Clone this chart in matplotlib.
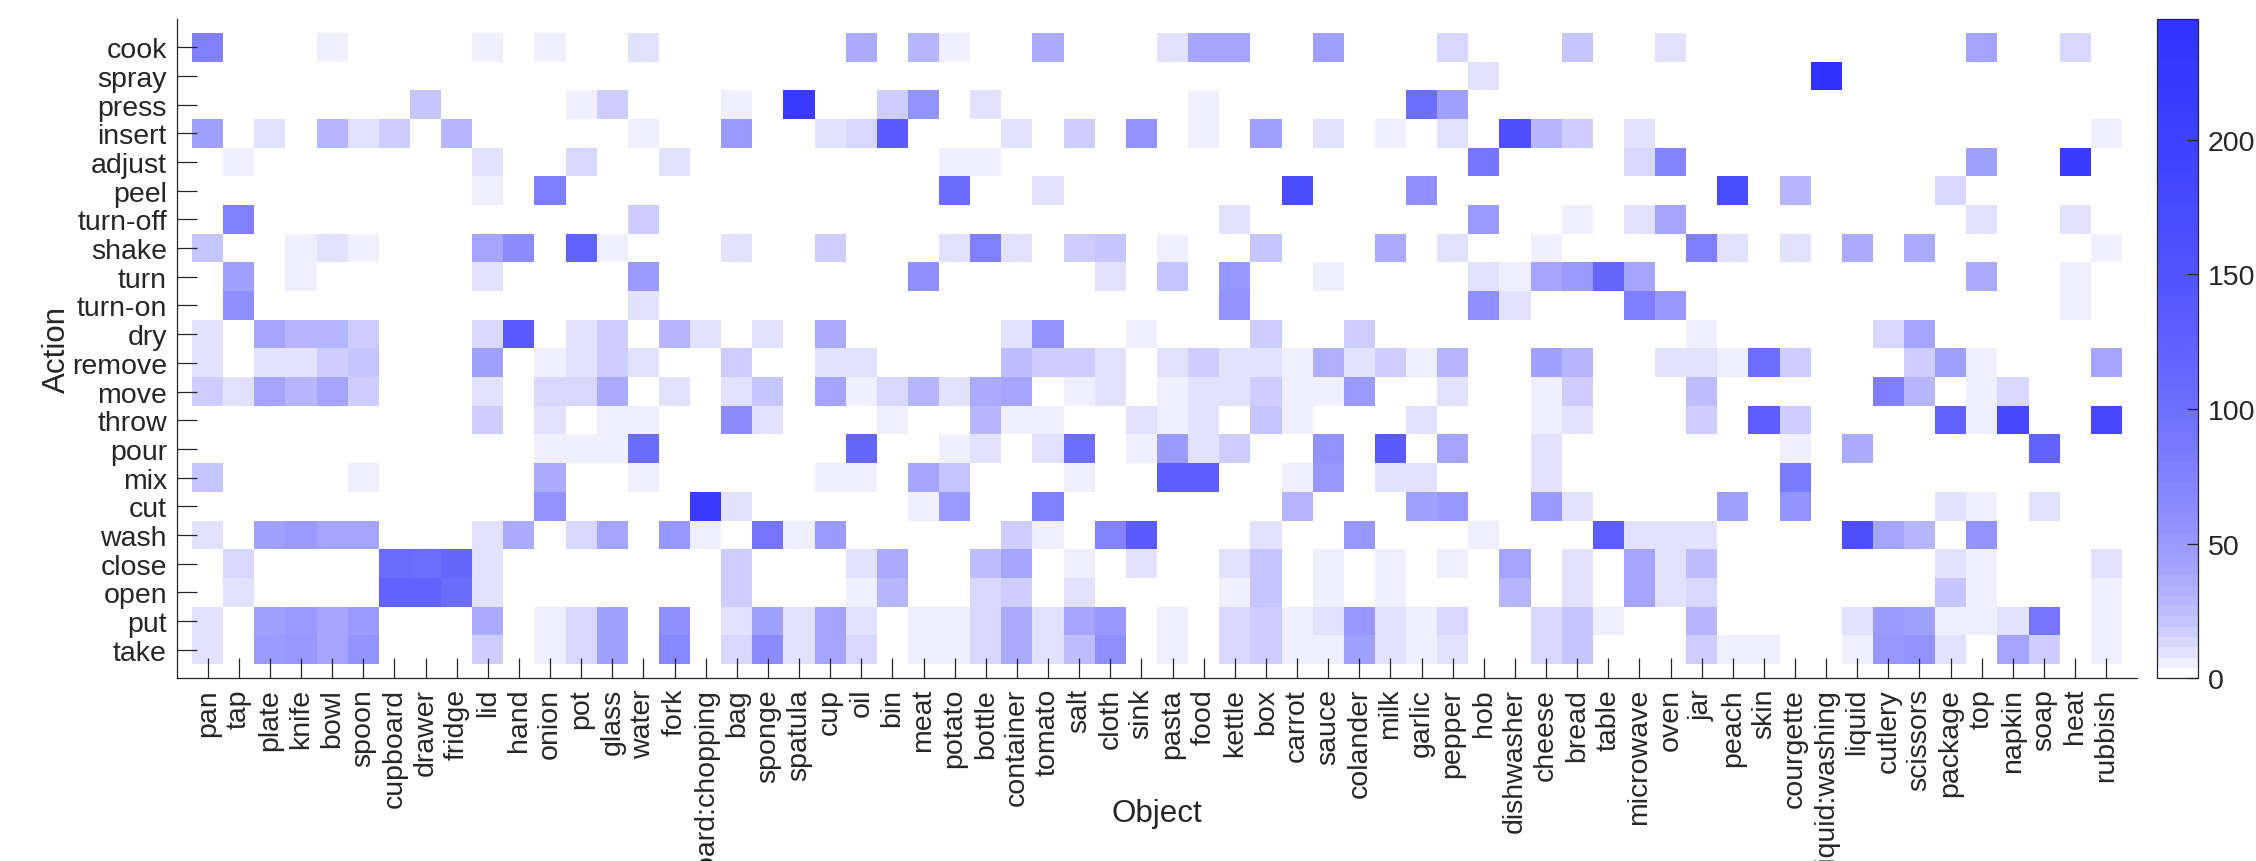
import numpy as np
import matplotlib
matplotlib.use("Agg")
import matplotlib.pyplot as plt
from matplotlib.colors import ListedColormap

plt.rcParams['font.family'] = ['Liberation Sans', 'DejaVu Sans']

actions = ["cook", "spray", "press", "insert", "adjust", "peel", "turn-off", "shake",
           "turn", "turn-on", "dry", "remove", "move", "throw", "pour", "mix", "cut",
           "wash", "close", "open", "put", "take"]

objects = ["pan", "tap", "plate", "knife", "bowl", "spoon", "cupboard", "drawer", "fridge",
           "lid", "hand", "onion", "pot", "glass", "water", "fork", "board:chopping", "bag",
           "sponge", "spatula", "cup", "oil", "bin", "meat", "potato", "bottle", "container",
           "tomato", "salt", "cloth", "sink", "pasta", "food", "kettle", "box", "carrot",
           "sauce", "colander", "milk", "garlic", "pepper", "hob", "dishwasher", "cheese",
           "bread", "table", "microwave", "oven", "jar", "peach", "skin", "courgette",
           "liquid:washing", "liquid", "cutlery", "scissors", "package", "top", "napkin",
           "soap", "heat", "rubbish"]

# counts per action, one value per object (same order as `objects`)
cook = [76, 0, 0, 0, 5, 0, 0, 0, 0, 5,
        0, 5, 0, 0, 11, 0, 0, 0, 0, 0,
        0, 36, 0, 28, 5, 0, 0, 36, 0, 0,
        0, 11, 42, 39, 0, 0, 45, 0, 0, 0,
        13, 0, 0, 0, 22, 0, 0, 8, 0, 0,
        0, 0, 0, 0, 0, 0, 0, 39, 0, 0,
        13, 0]
spray = [0, 0, 0, 0, 0, 0, 0, 0, 0, 0,
         0, 0, 0, 0, 0, 0, 0, 0, 0, 0,
         0, 0, 0, 0, 0, 0, 0, 0, 0, 0,
         0, 0, 0, 0, 0, 0, 0, 0, 0, 0,
         0, 8, 0, 0, 0, 0, 0, 0, 0, 0,
         0, 0, 245, 0, 0, 0, 0, 0, 0, 0,
         0, 0]
press = [0, 0, 0, 0, 0, 0, 0, 22, 0, 0,
         0, 0, 5, 17, 0, 0, 0, 5, 0, 217,
         0, 0, 17, 56, 0, 8, 0, 0, 0, 0,
         0, 0, 5, 0, 0, 0, 0, 0, 0, 100,
         45, 0, 0, 0, 0, 0, 0, 0, 0, 0,
         0, 0, 0, 0, 0, 0, 0, 0, 0, 0,
         0, 0]
insert = [45, 0, 8, 0, 28, 8, 17, 0, 28, 0,
          0, 0, 0, 0, 5, 0, 0, 49, 0, 0,
          8, 13, 137, 0, 0, 0, 8, 0, 17, 0,
          56, 0, 5, 0, 45, 0, 8, 0, 5, 0,
          8, 0, 162, 28, 17, 0, 8, 0, 0, 0,
          0, 0, 0, 0, 0, 0, 0, 0, 0, 0,
          0, 5]
adjust = [0, 5, 0, 0, 0, 0, 0, 0, 0, 8,
          0, 0, 13, 0, 0, 11, 0, 0, 0, 0,
          0, 0, 0, 0, 5, 5, 0, 0, 0, 0,
          0, 0, 0, 0, 0, 0, 0, 0, 0, 0,
          0, 89, 0, 0, 0, 0, 13, 69, 0, 0,
          0, 0, 0, 0, 0, 0, 0, 45, 0, 0,
          217, 0]
peel = [0, 0, 0, 0, 0, 0, 0, 0, 0, 5,
        0, 78, 0, 0, 0, 0, 0, 0, 0, 0,
        0, 0, 0, 0, 106, 0, 0, 8, 0, 0,
        0, 0, 0, 0, 0, 172, 0, 0, 0, 60,
        0, 0, 0, 0, 0, 0, 0, 0, 0, 172,
        0, 28, 0, 0, 0, 0, 13, 0, 0, 0,
        0, 0]
turn_off = [0, 73, 0, 0, 0, 0, 0, 0, 0, 0,
            0, 0, 0, 0, 18, 0, 0, 0, 0, 0,
            0, 0, 0, 0, 0, 0, 0, 0, 0, 0,
            0, 0, 0, 8, 0, 0, 0, 0, 0, 0,
            0, 49, 0, 0, 5, 0, 11, 42, 0, 0,
            0, 0, 0, 0, 0, 0, 0, 11, 0, 0,
            8, 0]
shake = [22, 0, 0, 5, 11, 5, 0, 0, 0, 39,
         64, 0, 120, 5, 0, 0, 0, 8, 0, 0,
         17, 0, 0, 0, 8, 73, 8, 0, 17, 22,
         0, 5, 0, 0, 22, 0, 0, 0, 36, 0,
         8, 0, 0, 5, 0, 0, 0, 0, 78, 11,
         0, 11, 0, 36, 0, 36, 0, 0, 0, 0,
         0, 5]
turn = [0, 45, 0, 5, 0, 0, 0, 0, 0, 8,
        0, 0, 0, 0, 49, 0, 0, 0, 0, 0,
        0, 0, 0, 60, 0, 0, 0, 0, 0, 8,
        0, 22, 0, 52, 0, 0, 5, 0, 0, 0,
        0, 8, 5, 42, 49, 113, 39, 0, 0, 0,
        0, 0, 0, 0, 0, 0, 0, 36, 0, 0,
        5, 0]
turn_on = [0, 60, 0, 0, 0, 0, 0, 0, 0, 0,
           0, 0, 0, 0, 11, 0, 0, 0, 0, 0,
           0, 0, 0, 0, 0, 0, 0, 0, 0, 0,
           0, 0, 0, 56, 0, 0, 0, 0, 0, 0,
           0, 60, 8, 0, 0, 0, 78, 52, 0, 0,
           0, 0, 0, 0, 0, 0, 0, 0, 0, 0,
           5, 0]
dry = [8, 0, 39, 28, 28, 17, 0, 0, 0, 13,
       137, 0, 8, 17, 0, 28, 11, 0, 8, 0,
       36, 0, 0, 0, 0, 0, 11, 56, 0, 0,
       5, 0, 0, 0, 18, 0, 0, 18, 0, 0,
       0, 0, 0, 0, 0, 0, 0, 0, 5, 0,
       0, 0, 0, 0, 13, 42, 0, 0, 0, 0,
       0, 0]
remove = [8, 0, 11, 8, 18, 22, 0, 0, 0, 45,
          0, 5, 11, 17, 11, 0, 0, 17, 0, 0,
          8, 11, 0, 0, 0, 0, 24, 17, 17, 8,
          0, 11, 17, 8, 11, 5, 33, 11, 17, 5,
          28, 0, 0, 45, 30, 0, 0, 11, 8, 5,
          100, 17, 0, 0, 0, 17, 45, 5, 0, 0,
          0, 39]
move = [18, 11, 42, 28, 39, 17, 0, 0, 0, 8,
        0, 13, 13, 36, 0, 11, 0, 8, 22, 0,
        42, 5, 13, 28, 11, 36, 42, 0, 5, 8,
        0, 5, 8, 8, 17, 5, 5, 49, 0, 0,
        8, 0, 0, 5, 17, 0, 0, 0, 24, 0,
        0, 0, 0, 0, 78, 28, 0, 5, 13, 0,
        0, 0]
throw = [0, 0, 0, 0, 0, 0, 0, 0, 0, 18,
         0, 11, 0, 5, 5, 0, 0, 64, 8, 0,
         0, 0, 5, 0, 0, 28, 5, 5, 0, 0,
         11, 5, 11, 0, 22, 5, 0, 0, 0, 11,
         0, 0, 0, 5, 8, 0, 0, 0, 17, 0,
         128, 17, 0, 0, 0, 0, 120, 5, 182, 0,
         0, 182]
pour = [0, 0, 0, 0, 0, 0, 0, 0, 0, 0,
        0, 5, 5, 5, 106, 0, 0, 0, 0, 0,
        0, 113, 0, 0, 5, 8, 0, 8, 100, 0,
        5, 49, 8, 17, 0, 0, 56, 0, 137, 0,
        39, 0, 0, 8, 0, 0, 0, 0, 0, 0,
        0, 5, 0, 36, 0, 0, 0, 0, 0, 120,
        0, 0]
mix = [22, 0, 0, 0, 0, 5, 0, 0, 0, 0,
       0, 36, 0, 0, 5, 0, 0, 0, 0, 0,
       5, 5, 0, 42, 22, 0, 0, 0, 5, 0,
       0, 128, 128, 0, 0, 5, 52, 0, 11, 8,
       0, 0, 0, 11, 0, 0, 0, 0, 0, 0,
       0, 84, 0, 0, 0, 0, 0, 0, 0, 0,
       0, 0]
cut = [0, 0, 0, 0, 0, 0, 0, 0, 0, 0,
       0, 56, 0, 0, 0, 0, 217, 8, 0, 0,
       0, 0, 0, 5, 49, 0, 0, 73, 0, 0,
       0, 0, 0, 0, 0, 28, 0, 0, 0, 45,
       52, 0, 0, 49, 11, 0, 0, 0, 0, 45,
       0, 56, 0, 0, 0, 0, 8, 5, 0, 11,
       0, 0]
wash = [11, 0, 45, 49, 39, 42, 0, 0, 0, 8,
        36, 0, 13, 39, 0, 52, 5, 0, 89, 5,
        49, 0, 0, 0, 0, 0, 17, 5, 0, 69,
        137, 0, 0, 0, 11, 0, 0, 52, 0, 0,
        0, 5, 0, 0, 0, 128, 8, 8, 11, 0,
        0, 0, 0, 162, 39, 28, 0, 56, 0, 0,
        0, 0]
close = [0, 13, 0, 0, 0, 0, 106, 100, 113, 11,
         0, 0, 0, 0, 0, 0, 0, 17, 0, 0,
         0, 8, 36, 0, 0, 24, 39, 0, 5, 0,
         8, 0, 0, 8, 22, 0, 5, 0, 5, 0,
         5, 0, 39, 0, 8, 0, 39, 11, 24, 0,
         0, 0, 0, 0, 0, 0, 11, 5, 0, 0,
         0, 8]
open_ = [0, 11, 0, 0, 0, 0, 120, 120, 106, 11,
         0, 0, 0, 0, 0, 0, 0, 17, 0, 0,
         0, 5, 28, 0, 0, 13, 18, 0, 8, 0,
         0, 0, 0, 5, 22, 0, 5, 0, 5, 0,
         0, 0, 28, 0, 11, 0, 39, 11, 13, 0,
         0, 0, 0, 0, 0, 0, 22, 5, 0, 0,
         0, 5]
put = [8, 0, 45, 49, 39, 49, 0, 0, 0, 36,
       0, 5, 13, 45, 0, 60, 0, 11, 45, 8,
       39, 11, 0, 5, 5, 13, 36, 8, 39, 52,
       0, 5, 0, 13, 18, 5, 11, 52, 8, 5,
       13, 0, 0, 13, 22, 5, 0, 0, 30, 0,
       0, 0, 0, 11, 49, 45, 5, 5, 8, 89,
       0, 5]
take = [8, 0, 49, 52, 42, 56, 0, 0, 0, 18,
        0, 5, 13, 45, 0, 66, 0, 13, 64, 11,
        42, 13, 0, 5, 5, 13, 36, 8, 24, 60,
        0, 5, 0, 13, 18, 5, 5, 45, 8, 5,
        11, 0, 0, 13, 22, 0, 0, 0, 17, 5,
        5, 0, 0, 5, 52, 56, 8, 0, 42, 17,
        0, 5]

rows = [cook, spray, press, insert, adjust, peel, turn_off, shake, turn, turn_on, dry,
        remove, move, throw, pour, mix, cut, wash, close, open_, put, take]
counts = np.array(rows, dtype=float)

color_max = 245
cbar_ticks = [0, 50, 100, 150, 200]

# white -> blue colormap, 64 levels, strongest change at low counts
n_levels = 64
t = np.linspace(0, 1, n_levels)
f = np.log1p(15 * t) / np.log(16)
end_rgb = np.array([0.2, 0.2, 1.0])
cmap = ListedColormap(1 - f[:, None] * (1 - end_rgb))

ink = '#262626'
fig = plt.figure(figsize=(22.56, 8.62), dpi=100)
ax = fig.add_axes([0.0783, 0.2120, 0.8691, 0.7651])
im = ax.imshow(counts, cmap=cmap, vmin=0, vmax=color_max, aspect='auto',
               interpolation='nearest',
               extent=(0.5, len(objects) + 0.5, len(actions) + 0.5, 0.5))
ax.set_xlim(0, len(objects) + 1)
ax.set_ylim(len(actions) + 1, 0)

ax.set_xticks(np.arange(1, len(objects) + 1))
ax.set_xticklabels(objects, rotation=90)
ax.set_yticks(np.arange(1, len(actions) + 1))
ax.set_yticklabels(actions)
ax.tick_params(direction='in', length=14.4, width=0.9, labelsize=20.5, pad=7,
               colors=ink, top=False, right=False)

for side in ['top', 'right']:
    ax.spines[side].set_visible(False)
for side in ['left', 'bottom']:
    ax.spines[side].set_color(ink)
    ax.spines[side].set_linewidth(0.9)

ax.set_xlabel('Object', fontsize=22.5, color=ink)
ax.xaxis.set_label_coords(0.5, -0.204)
ax.xaxis.label.set_va('center')
ax.set_ylabel('Action', fontsize=22.5, color=ink)
ax.yaxis.set_label_coords(-0.061, 0.5)
ax.yaxis.label.set_va('center')

cax = fig.add_axes([0.9561, 0.2120, 0.0182, 0.7651])
cb = fig.colorbar(im, cax=cax, ticks=cbar_ticks)
cb.outline.set_linewidth(0.9)
cb.outline.set_edgecolor(ink)
cax.tick_params(direction='in', length=8, width=0.9, labelsize=20.5, pad=7, colors=ink)

fig.savefig('out.png', dpi=100, facecolor='white')
